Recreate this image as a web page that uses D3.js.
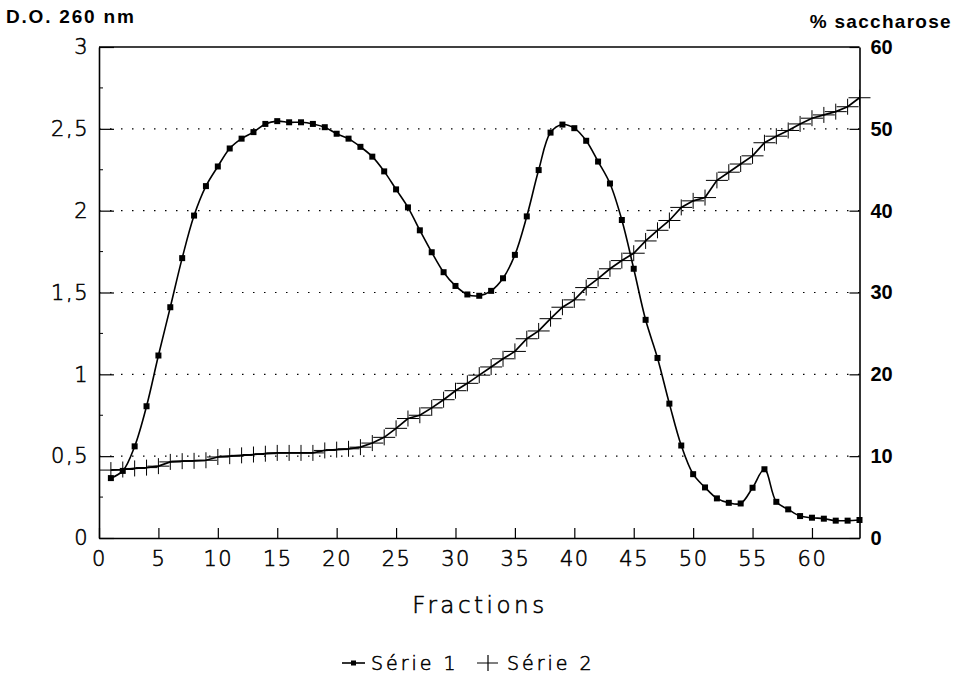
<!DOCTYPE html>
<html>
<head>
<meta charset="utf-8">
<script src="https://cdn.jsdelivr.net/npm/d3@7"></script>
<style>
  html, body { margin: 0; padding: 0; background: #fff; }
  svg { display: block; }
  .thin { font-family: "DejaVu Sans", sans-serif; font-weight: 200; fill: #000; stroke: #000; stroke-width: 0.55px; }
  .bold { font-family: "Liberation Sans", Arial, sans-serif; font-weight: bold; fill: #000; }
</style>
</head>
<body>
<svg id="chart" width="954" height="674"></svg>
<script>
// ---- data ----
const fractions = d3.range(1, 65);
const serie1 = [0.366, 0.41, 0.56, 0.805, 1.115, 1.41, 1.71, 1.97, 2.15, 2.27,
  2.38, 2.44, 2.48, 2.53, 2.547, 2.54, 2.54, 2.53, 2.51, 2.47,
  2.44, 2.39, 2.33, 2.24, 2.13, 2.02, 1.88, 1.746, 1.624, 1.54,
  1.488, 1.48, 1.51, 1.587, 1.73, 1.965, 2.248, 2.477, 2.526, 2.504,
  2.427, 2.30, 2.166, 1.943, 1.645, 1.333, 1.10, 0.821, 0.565, 0.39,
  0.309, 0.242, 0.215, 0.211, 0.307, 0.42, 0.221, 0.175, 0.134, 0.124,
  0.118, 0.106, 0.106, 0.11];
const serie2 = [8.3, 8.37, 8.5, 8.6, 8.78, 9.3, 9.39, 9.43, 9.5, 9.9,
  10.0, 10.1, 10.2, 10.3, 10.4, 10.4, 10.4, 10.4, 10.7, 10.8,
  10.9, 11.1, 11.6, 12.3, 13.4, 14.6, 15.0, 15.9, 16.9, 18.0,
  18.9, 19.9, 20.9, 21.9, 22.8, 24.35, 25.3, 26.8, 28.2, 29.1,
  30.6, 31.7, 32.9, 33.9, 34.8, 36.3, 37.6, 38.8, 40.4, 41.2,
  41.6, 43.7, 44.7, 45.7, 46.7, 48.3, 49.1, 49.8, 50.6, 51.3,
  51.7, 52.1, 52.7, 53.8];
const xTicks = [0, 5, 10, 15, 20, 25, 30, 35, 40, 45, 50, 55, 60];
const yLeftTicks = [0, 0.5, 1, 1.5, 2, 2.5, 3];
const yRightTicks = [0, 10, 20, 30, 40, 50, 60];
const seriesNames = ["Série 1", "Série 2"];
const xTitle = "Fractions";
const yLeftTitle = "D.O. 260 nm";
const yRightTitle = "% saccharose";

// ---- layout ----
const L = 99, R = 859.5, T = 47, B = 538;
const svg = d3.select("#chart");
const x = d3.scaleLinear().domain([0, 64]).range([L, R]);
const yL = d3.scaleLinear().domain([0, 3]).range([B, T]);
const yR = d3.scaleLinear().domain([0, 60]).range([B, T]);
const fmt = d => String(d).replace(".", ",");

// gridlines (dotted)
svg.append("g").selectAll("line")
  .data(yLeftTicks.filter(d => d > 0 && d < 3))
  .join("line")
  .attr("x1", L).attr("x2", R)
  .attr("y1", d => yL(d)).attr("y2", d => yL(d))
  .attr("stroke", "#000").attr("stroke-width", 1.2)
  .attr("stroke-dasharray", "1.5,9.5");

// frame top
svg.append("line").attr("x1", L).attr("x2", R).attr("y1", T).attr("y2", T)
  .attr("stroke", "#000").attr("stroke-width", 1.5);

// axes
const axB = d3.axisBottom(x).tickValues(xTicks).tickSizeInner(-10).tickSizeOuter(0).tickPadding(13).tickFormat(d => d);
const gB = svg.append("g").attr("transform", `translate(0,${B})`).call(axB);
gB.select(".domain").attr("stroke-width", 1.6);
gB.selectAll(".tick line").attr("stroke-width", 1.2);
gB.selectAll("text").attr("class", "thin").attr("font-size", 21).attr("dy", "0.71em")
  .style("letter-spacing", "1.5px");

const axL = d3.axisLeft(yL).tickValues(yLeftTicks).tickSizeInner(-15).tickSizeOuter(0).tickPadding(10).tickFormat(fmt);
const gL = svg.append("g").attr("transform", `translate(${L},0)`).call(axL);
gL.select(".domain").attr("stroke-width", 1.6);
gL.selectAll(".tick line").attr("stroke-width", 1.2);
gL.selectAll("text").attr("class", "thin").attr("font-size", 21).style("letter-spacing", "1.5px");

// minor left ticks
svg.append("g").selectAll("line")
  .data(d3.range(0.25, 3, 0.5))
  .join("line")
  .attr("x1", L).attr("x2", L + 4)
  .attr("y1", d => yL(d)).attr("y2", d => yL(d))
  .attr("stroke", "#000").attr("stroke-width", 1);

const axR = d3.axisRight(yR).tickValues(yRightTicks).tickSizeInner(-10).tickSizeOuter(0).tickPadding(11).tickFormat(d => d);
const gR = svg.append("g").attr("transform", `translate(${R},0)`).call(axR);
gR.select(".domain").attr("stroke-width", 1.6);
gR.selectAll(".tick line").attr("stroke-width", 1.2);
gR.selectAll("text").attr("class", "bold").attr("font-size", 20).attr("font-weight", "bold");
svg.selectAll(".tick text").attr("fill", "#000");
svg.selectAll(".domain").attr("stroke", "#000");

// titles
svg.append("text").attr("class", "bold").attr("x", 6).attr("y", 23)
  .attr("font-size", 19).style("letter-spacing", "1.8px").text(yLeftTitle);
svg.append("text").attr("class", "bold").attr("x", 952).attr("y", 28)
  .attr("text-anchor", "end").attr("font-size", 19).style("letter-spacing", "1.3px").text(yRightTitle);
svg.append("text").attr("class", "thin").attr("x", 480).attr("y", 613)
  .attr("text-anchor", "middle").attr("font-size", 23).style("letter-spacing", "3.5px").text(xTitle);

// series 2 (crosses)
svg.append("path").datum(fractions.map((f, i) => [f, serie2[i]]))
  .attr("fill", "none").attr("stroke", "#000").attr("stroke-width", 1.7)
  .attr("d", d3.line().x(d => x(d[0])).y(d => yR(d[1])));
svg.append("g").selectAll("path")
  .data(fractions.map((f, i) => [f, serie2[i]]))
  .join("path")
  .attr("fill", "none").attr("stroke", "#000").attr("stroke-width", 1)
  .attr("d", d => `M${x(d[0]) - 11},${yR(d[1])}H${x(d[0]) + 11}M${x(d[0])},${yR(d[1]) - 8}V${yR(d[1]) + 8}`);

// series 1 (squares)
svg.append("path").datum(fractions.map((f, i) => [f, serie1[i]]))
  .attr("fill", "none").attr("stroke", "#000").attr("stroke-width", 1.6)
  .attr("d", d3.line().curve(d3.curveCatmullRom).x(d => x(d[0])).y(d => yL(d[1])));
svg.append("g").selectAll("rect")
  .data(fractions.map((f, i) => [f, serie1[i]]))
  .join("rect")
  .attr("x", d => x(d[0]) - 3).attr("y", d => yL(d[1]) - 3)
  .attr("width", 6).attr("height", 6).attr("fill", "#000");

// legend
const lg = svg.append("g");
lg.append("line").attr("x1", 342).attr("x2", 365).attr("y1", 663).attr("y2", 663)
  .attr("stroke", "#000").attr("stroke-width", 1.6);
lg.append("rect").attr("x", 351).attr("y", 660.5).attr("width", 5).attr("height", 5).attr("fill", "#000");
lg.append("text").attr("class", "thin").attr("x", 371).attr("y", 670).attr("font-size", 19)
  .style("letter-spacing", "3px").text(seriesNames[0]);
lg.append("path").attr("d", "M477,663H498M488,655V671").attr("stroke", "#000").attr("stroke-width", 1.2).attr("fill", "none");
lg.append("text").attr("class", "thin").attr("x", 507).attr("y", 670).attr("font-size", 19)
  .style("letter-spacing", "3px").text(seriesNames[1]);
</script>
</body>
</html>
